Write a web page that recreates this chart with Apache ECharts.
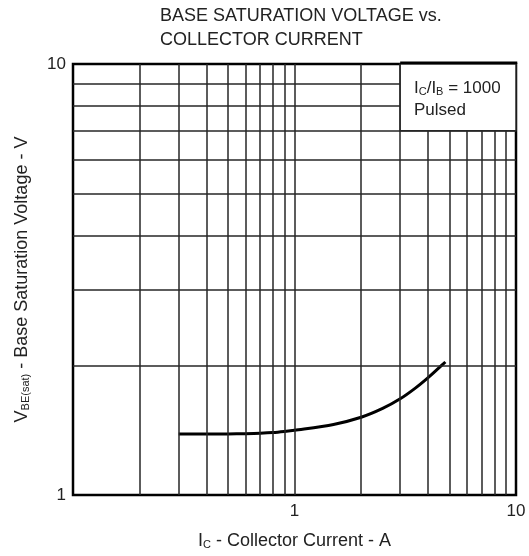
<!DOCTYPE html>
<html>
<head>
<meta charset="utf-8">
<script src="https://cdn.jsdelivr.net/npm/echarts@6/dist/echarts.min.js"></script>
<style>html,body{margin:0;padding:0;background:#fff}#c{width:529px;height:556px}</style>
</head>
<body>
<div id="c"></div>
<script>
// Data
const currentA = [0.3, 0.4, 0.5, 0.6, 0.7, 0.8, 0.9, 1.0, 1.5, 2.0, 2.5, 3.0, 3.5, 4.0, 4.5, 4.8];
const vbeSat   = [1.385, 1.385, 1.386, 1.388, 1.391, 1.396, 1.404, 1.413, 1.458, 1.515, 1.588, 1.672, 1.768, 1.870, 1.975, 2.035];
const xGrid = [0.2, 0.3, 0.4, 0.5, 0.6, 0.7, 0.8, 0.9, 1, 2, 3, 4, 5, 6, 7, 8, 9];
const yGrid = [2, 3, 4, 5, 6, 7, 8, 9];
const xTickLabels = [1, 10];
const yTickLabels = [1, 10];

const FONT = '"Liberation Sans", Arial, sans-serif';
const TXT = '#222';
const chart = echarts.init(document.getElementById('c'), null, {renderer: 'canvas'});
const lineCol = '#262626';

const xRich = {
  n: {fontFamily: FONT, fontSize: 18, color: TXT, verticalAlign: 'bottom', lineHeight: 20},
  s: {fontFamily: FONT, fontSize: 11, color: TXT, verticalAlign: 'bottom', lineHeight: 15}
};
const yRich = {
  n: {fontFamily: FONT, fontSize: 18, color: TXT, verticalAlign: 'bottom', lineHeight: 20},
  s: {fontFamily: FONT, fontSize: 11, color: TXT, verticalAlign: 'bottom', lineHeight: 12}
};

const option = {
  animation: false,
  backgroundColor: '#fff',
  title: {
    text: 'BASE SATURATION VOLTAGE vs.\nCOLLECTOR CURRENT',
    left: 160, top: 4, padding: 0,
    textStyle: {fontFamily: FONT, fontSize: 18, fontWeight: 'normal', color: TXT, lineHeight: 24}
  },
  grid: {left: 73, right: 13, top: 64, bottom: 61, show: true, borderColor: '#000', borderWidth: 2.5, backgroundColor: 'transparent'},
  xAxis: {
    type: 'log', logBase: 10, min: 0.1, max: 10,
    axisLine: {show: false}, axisTick: {show: false}, splitLine: {show: false},
    axisLabel: {
      fontFamily: FONT, fontSize: 17, color: TXT, margin: 8,
      formatter: v => xTickLabels.some(t => Math.abs(t - v) < 1e-6) ? String(Math.round(v)) : ''
    },
    name: '{n|I}{s|C}{n| - Collector Current - A}',
    nameLocation: 'middle', nameGap: 35,
    nameTextStyle: {rich: xRich}
  },
  yAxis: {
    type: 'log', logBase: 10, min: 1, max: 10,
    axisLine: {show: false}, axisTick: {show: false}, splitLine: {show: false},
    axisLabel: {
      fontFamily: FONT, fontSize: 17, color: TXT, margin: 7,
      formatter: v => yTickLabels.some(t => Math.abs(t - v) < 1e-6) ? String(Math.round(v)) : ''
    },
    name: '{n|V}{s|BE(sat)}{n| - Base Saturation Voltage - V}',
    nameLocation: 'middle', nameGap: 42, nameRotate: 90,
    nameTextStyle: {rich: yRich}
  },
  series: [
    {
      type: 'line', data: [], silent: true, z: 1,
      markLine: {
        silent: true, symbol: 'none', animation: false,
        label: {show: false},
        lineStyle: {type: 'solid', color: lineCol, width: 1.5},
        data: xGrid.map(v => ({xAxis: v})).concat(yGrid.map(v => ({yAxis: v})))
      }
    },
    {
      type: 'line', smooth: 0.3, showSymbol: false, silent: true, z: 3,
      lineStyle: {color: '#000', width: 3},
      data: currentA.map((x, i) => [x, vbeSat[i]])
    }
  ]
};
chart.setOption(option);

// Legend box spanning Ic 3..10 A and V 7..10 V
const p1 = chart.convertToPixel({gridIndex: 0}, [3, 10]);
const p2 = chart.convertToPixel({gridIndex: 0}, [10, 7]);
chart.setOption({
  graphic: [
    {
      type: 'rect', z: 100,
      shape: {x: p1[0], y: p1[1], width: p2[0] - p1[0], height: p2[1] - p1[1]},
      style: {fill: '#fff', stroke: lineCol, lineWidth: 1.5}
    },
    {
      type: 'rect', z: 102, silent: true,
      shape: {x: p1[0], y: p1[1] - 1.25, width: p2[0] - p1[0] + 1.25, height: 0},
      style: {fill: 'none', stroke: '#000', lineWidth: 2.5}
    },
    {
      type: 'text', z: 101, left: Math.round(p1[0]) + 14, top: Math.round(p1[1]) + 16,
      style: {
        text: '{n|I}{s|C}{n|/I}{s|B}{n| = 1000}\n{n|Pulsed}',
        rich: {
          n: {fontFamily: FONT, fontSize: 17, fill: TXT, verticalAlign: 'bottom', lineHeight: 22},
          s: {fontFamily: FONT, fontSize: 11, fill: TXT, verticalAlign: 'bottom', lineHeight: 17}
        }
      }
    }
  ]
});
</script>
</body>
</html>
